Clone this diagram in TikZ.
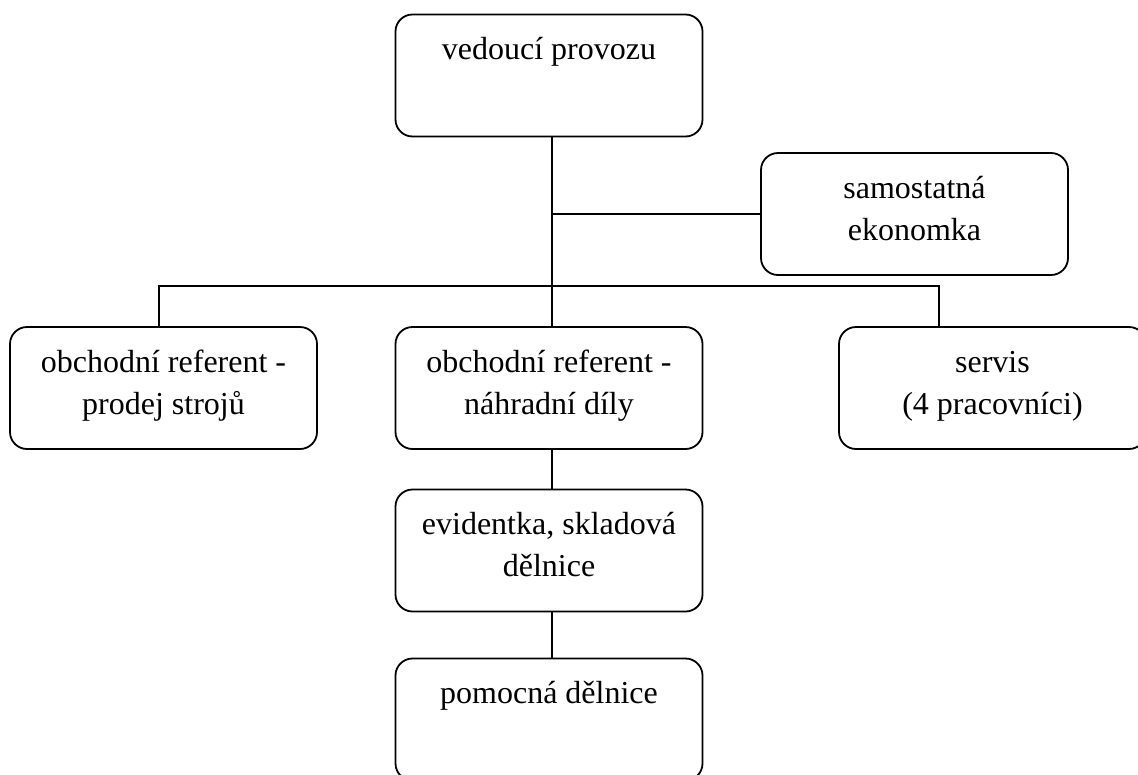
\documentclass[tikz,border=0pt]{standalone}
\usepackage{fontspec}
\setmainfont{Liberation Serif}

% Box text: top-aligned, centred lines
\newcommand{\boxtext}[1]{\parbox[c][120pt][t]{300pt}{\centering\vspace*{14.6pt}#1}}

\begin{document}
\begin{tikzpicture}[x=1pt,y=-1pt,
  orgbox/.style={draw, line width=1.8pt, rounded corners=17pt, inner sep=0pt,
    minimum width=307pt, minimum height=122pt,
    font=\fontsize{32pt}{42pt}\selectfont},
  link/.style={line width=1.8pt}]
\useasboundingbox (0,0) rectangle (1138,774);

\node[orgbox] (boss)   at (549,75.5)  {\boxtext{\strut vedoucí provozu}};
\node[orgbox] (econ)   at (914.5,214) {\boxtext{\strut samostatná\\\strut ekonomka}};
\node[orgbox] (sales)  at (163.5,388) {\boxtext{\strut obchodní referent -\\\strut prodej strojů}};
\node[orgbox] (parts)  at (549,388)   {\boxtext{\strut obchodní referent -\\\strut náhradní díly}};
\node[orgbox] (service) at (992.5,388) {\boxtext{\strut servis\\\strut (4 pracovníci)}};
\node[orgbox] (store)  at (549,550.5) {\boxtext{\strut evidentka, skladová\\\strut dělnice}};
\node[orgbox] (helper) at (549,719.5) {\boxtext{\strut pomocná dělnice}};

% spine and bus positions
\coordinate (spine) at (552,0);
\coordinate (busL) at (159,286);
\coordinate (busR) at (939,286);

\draw[link] (boss.south -| spine) -- (parts.north -| spine);
\draw[link] (spine |- econ.west) -- (econ.west);
\draw[link] (busL |- sales.north) -- (busL) -- (busR) -- (busR |- service.north);
\draw[link] (parts.south -| spine) -- (store.north -| spine);
\draw[link] (store.south -| spine) -- (helper.north -| spine);
\end{tikzpicture}
\end{document}
